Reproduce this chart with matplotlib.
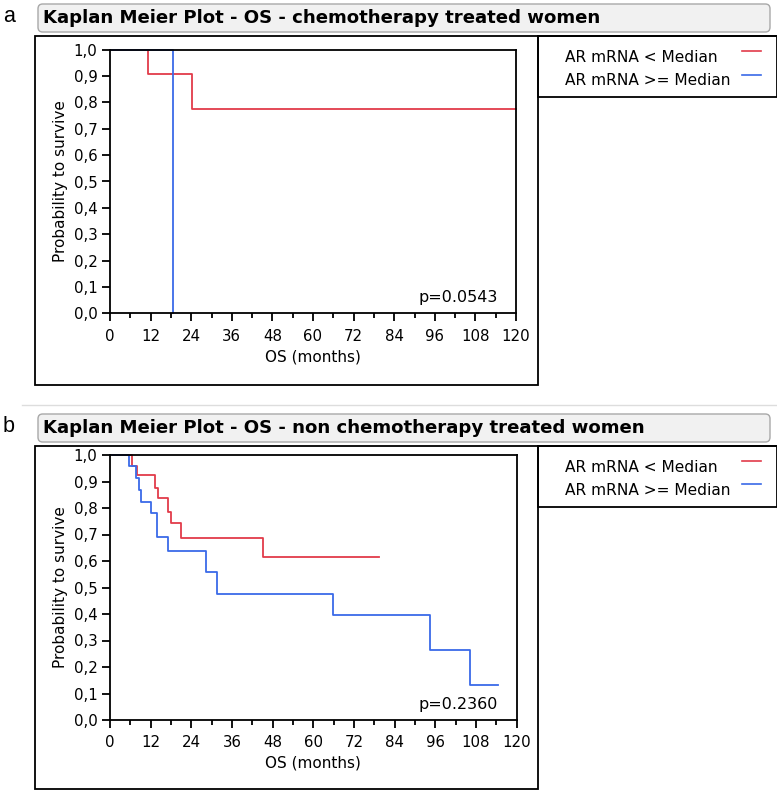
import matplotlib
matplotlib.use("Agg")
import matplotlib.pyplot as plt
from matplotlib.patches import Rectangle, FancyBboxPatch
from matplotlib.lines import Line2D

plt.rcParams["font.family"] = ["DejaVu Sans"]

W, H = 777, 792

# panel a: chemotherapy treated women
red_a_t = [0, 11.1, 24.3, 120]
red_a_s = [1.0, 0.909, 0.773, 0.773]
blue_a_t = [0, 18.7]
blue_a_s = [1.0, 0.0]

# panel b: non chemotherapy treated women
red_b_t = [0, 6.4, 8.1, 13.3, 14.3, 17.2, 17.9, 21.1, 45.2, 79.5]
red_b_s = [1.0, 0.96, 0.925, 0.874, 0.836, 0.786, 0.742, 0.686, 0.614, 0.614]
blue_b_t = [0, 5.7, 7.7, 8.7, 9.1, 12.0, 13.8, 17.2, 28.3, 31.7, 65.9, 94.6, 106.4, 114.6]
blue_b_s = [1.0, 0.96, 0.912, 0.868, 0.824, 0.782, 0.692, 0.638, 0.557, 0.475,
            0.396, 0.264, 0.132, 0.132]

titles = ["Kaplan Meier Plot - OS - chemotherapy treated women",
          "Kaplan Meier Plot - OS - non chemotherapy treated women"]
pvalues = ["p=0.0543", "p=0.2360"]
panel_labels = ["a", "b"]
legend_labels = ["AR mRNA < Median", "AR mRNA >= Median"]
x_ticks = list(range(0, 121, 12))
y_ticks = [i / 10 for i in range(11)]

RED = "#e23b4a"
BLUE = "#3a6ae8"

fig = plt.figure(figsize=(W / 100, H / 100), dpi=100)


def fx(x):
    return x / W


def fy(y):
    return 1 - y / H


def box(x0, y0, x1, y1, **kw):
    r = Rectangle((fx(x0), fy(y1)), fx(x1) - fx(x0), fy(y0) - fy(y1),
                  transform=fig.transFigure, fill=False, **kw)
    fig.add_artist(r)


panels = [
    dict(top=0, red=(red_a_t, red_a_s), blue=(blue_a_t, blue_a_s),
         ax=(110, 49.5, 516, 313.5), frame_bottom=385),
    dict(top=410, red=(red_b_t, red_b_s), blue=(blue_b_t, blue_b_s),
         ax=(110, 455, 516.5, 720), frame_bottom=789),
]

# faint separator between the panels
fig.add_artist(Line2D([fx(22), fx(777)], [fy(405), fy(405)], transform=fig.transFigure,
                      color="#dddddd", lw=1))

for i, p in enumerate(panels):
    t = p["top"]
    # panel letter
    fig.text(fx(3), fy(t + 17), panel_labels[i], fontsize=15.5, va="center", ha="left",
             family=["Liberation Sans", "DejaVu Sans"])
    # title header
    hdr = FancyBboxPatch((fx(38), fy(t + 32)), fx(770) - fx(38), fy(t + 4) - fy(t + 32),
                         boxstyle="round,pad=0,rounding_size=0.006",
                         transform=fig.transFigure, facecolor="#f1f1f1",
                         edgecolor="#a8a8a8", lw=1)
    fig.add_artist(hdr)
    fig.text(fx(43), fy(t + 18), titles[i], fontsize=13.1, fontweight="bold",
             va="center", ha="left")
    # outer frame and legend box
    box(35, t + 36, 538, p["frame_bottom"], edgecolor="black", lw=1.3)
    box(538, t + 36, 776.5, t + 97, edgecolor="black", lw=1.3)
    fig.add_artist(Line2D([fx(538), fx(777)], [fy(t + 36), fy(t + 36)],
                          transform=fig.transFigure, color="black", lw=1.3))
    for j, (lab, col) in enumerate(zip(legend_labels, [RED, BLUE])):
        yy = t + 57 + j * 23.5
        fig.text(fx(565), fy(yy), lab, fontsize=11.1, va="center", ha="left")
        fig.add_artist(Line2D([fx(742), fx(761)], [fy(yy - 6), fy(yy - 6)],
                              transform=fig.transFigure, color=col, lw=1.2))

    x0, y0, x1, y1 = p["ax"]
    ax = fig.add_axes([fx(x0), fy(y1), fx(x1) - fx(x0), fy(y0) - fy(y1)])
    ax.step(p["red"][0], p["red"][1], where="post", color=RED, lw=1.3, clip_on=False)
    ax.step(p["blue"][0], p["blue"][1], where="post", color=BLUE, lw=1.3, clip_on=False)
    ax.set_xlim(0, 120)
    ax.set_ylim(0, 1)
    ax.set_xticks(x_ticks)
    ax.set_xticks(list(range(6, 120, 12)), minor=True)
    ax.set_yticks(y_ticks)
    ax.set_yticklabels([f"{v:.1f}".replace(".", ",") for v in y_ticks])
    ax.tick_params(axis="both", which="major", length=6, width=1.3, labelsize=10.8,
                   direction="out", pad=3)
    ax.tick_params(axis="x", which="major", pad=5)
    ax.tick_params(axis="x", which="minor", length=3.5, width=1.3)
    for s in ax.spines.values():
        s.set_linewidth(1.3)
    ax.set_xlabel("OS (months)", fontsize=11, labelpad=4)
    ax.set_ylabel("Probability to survive", fontsize=11, labelpad=4)
    ax.text(0.955, 0.06, pvalues[i], transform=ax.transAxes, ha="right", va="center",
            fontsize=11.5)

fig.savefig("out.png", dpi=100)
